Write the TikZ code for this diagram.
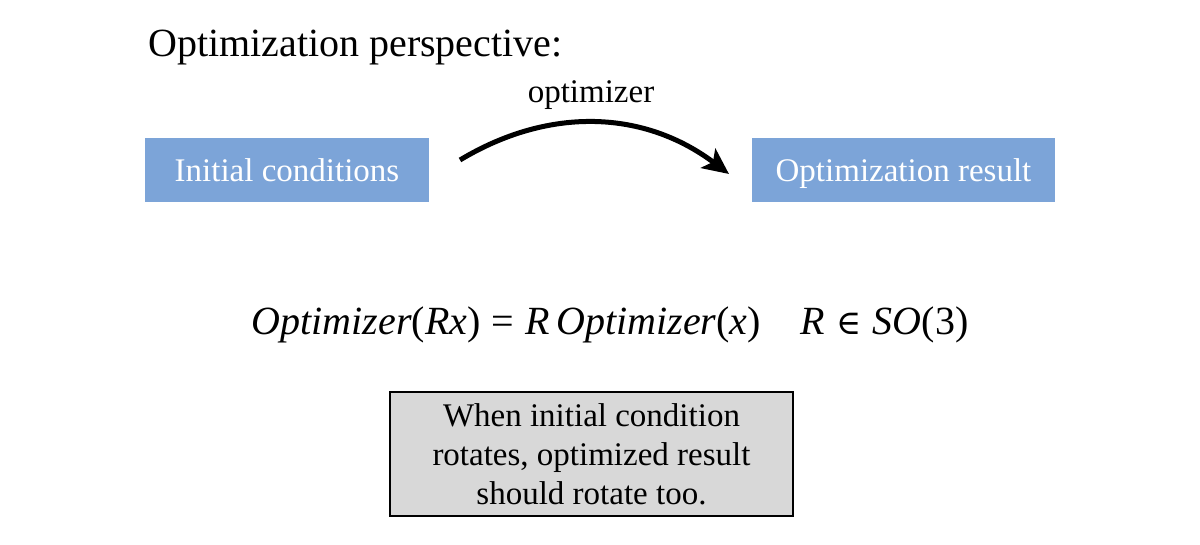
\documentclass[tikz,border=0pt]{standalone}
\usepackage{fontspec}
\setmainfont{Liberation Serif}
\newfontfamily\symbolfont{DejaVu Serif}
\usepackage{tikz}
\usetikzlibrary{positioning,arrows.meta}
\usepackage{xcolor}
\definecolor{stageblue}{RGB}{124,164,216}
\definecolor{notegray}{RGB}{216,216,216}

\begin{document}
\begin{tikzpicture}[x=1pt,y=1pt,>={Stealth[length=26pt,width=24pt,inset=6pt]},
  stage/.style={fill=stageblue,text=white,minimum height=64pt,inner sep=0pt,text height=24pt,text depth=0pt,font=\fontsize{33}{39}\selectfont},
  big/.style={font=\fontsize{33}{39}\selectfont}]
\useasboundingbox (0,0) rectangle (1200,544);
\node[anchor=base west,inner sep=0pt,font=\fontsize{40}{46}\selectfont] (title) at (148,487) {Optimization perspective:};
\node[stage,minimum width=284pt] (init) at (287,374) {Initial conditions};
\node[stage,minimum width=303pt] (result) at (903.5,374) {Optimization result};
\coordinate (from) at (460,384);
\coordinate (to) at (729,370);
\draw[->,line width=5pt] (from) to[bend left=34] (to);
\node[big,anchor=base,inner sep=0pt] (optlabel) at (591,441) {optimizer};
\node[anchor=base,inner sep=0pt,font=\fontsize{40}{46}\selectfont] (law) at (610,209)
  {\textit{Optimizer}(\textit{Rx})\;=\;\textit{R\,Optimizer}(\textit{x})\quad\textit{R}\;{\symbolfont\fontsize{34}{40}\selectfont ∈}\;\textit{SO}(3)};
\node[big,draw=black,line width=2.5pt,fill=notegray,minimum width=403pt,minimum height=124pt,align=center,inner sep=0pt] (note) at (591.5,90)
  {When initial condition\\rotates, optimized result\\should rotate too.};
\end{tikzpicture}
\end{document}
